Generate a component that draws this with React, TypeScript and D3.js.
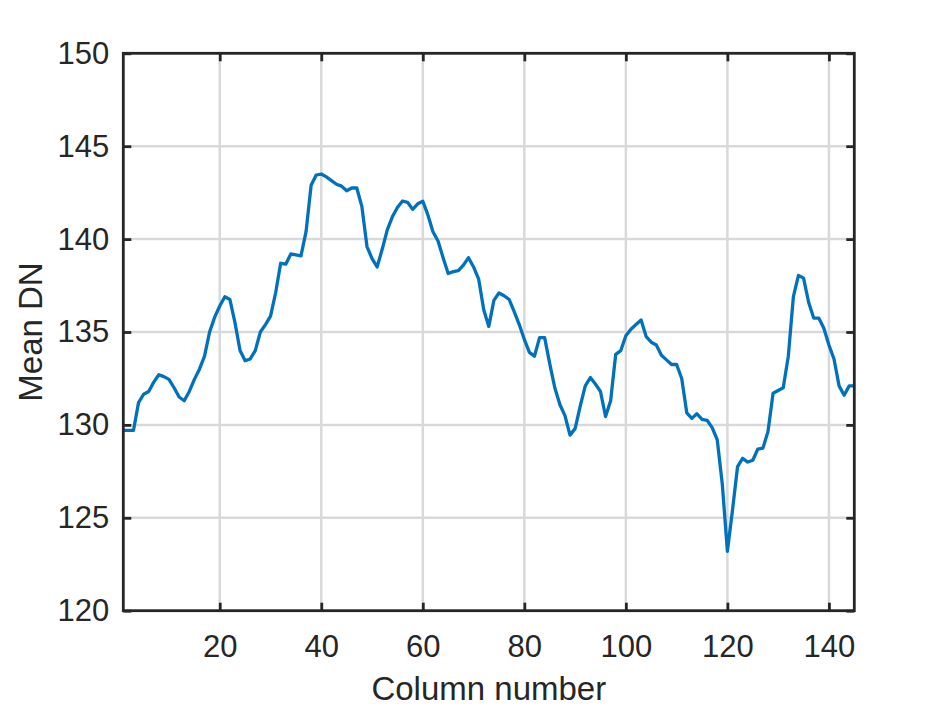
import { useEffect, useRef } from 'react'
import * as d3 from 'd3'

// Mean DN per column
const COLUMNS = d3.range(1, 146)
const MEAN_DN = [
  129.7, 129.7, 129.7, 131.2, 131.65, 131.8, 132.3, 132.7, 132.6, 132.45,
  132.0, 131.5, 131.3, 131.8, 132.45, 133.0, 133.7, 135.0, 135.8, 136.4,
  136.9, 136.75, 135.5, 134.0, 133.45, 133.55, 134.0, 135.0, 135.4, 135.85,
  137.1, 138.7, 138.65, 139.2, 139.15, 139.1, 140.4, 142.9, 143.45, 143.5,
  143.35, 143.15, 142.95, 142.85, 142.6, 142.75, 142.75, 141.75, 139.6, 138.95,
  138.5, 139.45, 140.5, 141.2, 141.7, 142.05, 141.98, 141.6, 141.9, 142.04,
  141.3, 140.4, 139.9, 139.0, 138.15, 138.25, 138.3, 138.6, 139.0, 138.5,
  137.85, 136.2, 135.3, 136.7, 137.1, 136.95, 136.75, 136.1, 135.4, 134.6,
  133.9, 133.7, 134.7, 134.7, 133.3, 132.0, 131.1, 130.5, 129.45, 129.8,
  131.0, 132.1, 132.55, 132.2, 131.8, 130.45, 131.3, 133.8, 134.0, 134.8,
  135.15, 135.4, 135.65, 134.75, 134.45, 134.3, 133.75, 133.5, 133.25, 133.25,
  132.5, 130.65, 130.35, 130.6, 130.3, 130.25, 129.85, 129.2, 126.8, 123.2,
  125.4, 127.75, 128.2, 128.0, 128.1, 128.7, 128.75, 129.65, 131.7, 131.85,
  132.0, 133.7, 136.9, 138.05, 137.9, 136.6, 135.75, 135.75, 135.2, 134.3,
  133.55, 132.1, 131.6, 132.1, 132.1,
]
const X_TICKS = [20, 40, 60, 80, 100, 120, 140]
const Y_TICKS = [120, 125, 130, 135, 140, 145, 150]

const WIDTH = 945
const HEIGHT = 708
const PLOT = { left: 123.3, top: 53.3, right: 854.3, bottom: 610.7 }
const INK = '#262626'
const FONT = '"Liberation Sans", Arial, Helvetica, sans-serif'

export default function App() {
  const svgRef = useRef<SVGSVGElement>(null)

  useEffect(() => {
    if (!svgRef.current) return
    const svg = d3.select(svgRef.current)
    svg.selectAll('*').remove()

    const x = d3.scaleLinear().domain([1, 145]).range([PLOT.left, PLOT.right])
    const y = d3.scaleLinear().domain([120, 150]).range([PLOT.bottom, PLOT.top])
    const innerW = PLOT.right - PLOT.left
    const innerH = PLOT.bottom - PLOT.top

    svg.append('rect').attr('width', WIDTH).attr('height', HEIGHT).attr('fill', '#ffffff')

    // grid
    const grid = svg.append('g')
    grid.selectAll('.gx').data(X_TICKS).join('line')
      .attr('x1', (d) => x(d)).attr('x2', (d) => x(d))
      .attr('y1', PLOT.top).attr('y2', PLOT.bottom)
      .attr('stroke', '#d9d9d9').attr('stroke-width', 2.5)
    grid.selectAll('.gy').data(Y_TICKS.slice(1, -1)).join('line')
      .attr('y1', (d) => y(d)).attr('y2', (d) => y(d))
      .attr('x1', PLOT.left).attr('x2', PLOT.right)
      .attr('stroke', '#d9d9d9').attr('stroke-width', 2.5)

    // data line
    const points = COLUMNS.map((c, i) => [c, MEAN_DN[i]] as [number, number])
    svg.append('path')
      .datum(points)
      .attr('fill', 'none')
      .attr('stroke', '#0072BD')
      .attr('stroke-width', 3.3)
      .attr('stroke-linejoin', 'round')
      .attr('d', d3.line<[number, number]>().x((d) => x(d[0])).y((d) => y(d[1])))

    const styleAxis = (a: any, labels: boolean) => {
      a.select('.domain').remove()
      a.selectAll('line').attr('stroke', INK).attr('stroke-width', 2.8)
      if (labels) {
        a.selectAll('text').attr('fill', INK).attr('font-size', 31).attr('font-family', FONT)
      } else {
        a.selectAll('text').remove()
      }
    }

    // axes (ticks inward, box on)
    svg.append('g').attr('transform', `translate(0,${PLOT.bottom})`)
      .call(d3.axisBottom(x).tickValues(X_TICKS).tickSize(-8).tickPadding(24))
      .call((a) => styleAxis(a, true))
    svg.append('g').attr('transform', `translate(0,${PLOT.top})`)
      .call(d3.axisTop(x).tickValues(X_TICKS).tickSize(-8))
      .call((a) => styleAxis(a, false))
    svg.append('g').attr('transform', `translate(${PLOT.left},0)`)
      .call(d3.axisLeft(y).tickValues(Y_TICKS).tickSize(-8).tickPadding(14))
      .call((a) => styleAxis(a, true))
    svg.append('g').attr('transform', `translate(${PLOT.right},0)`)
      .call(d3.axisRight(y).tickValues(Y_TICKS).tickSize(-8))
      .call((a) => styleAxis(a, false))

    svg.append('rect')
      .attr('x', PLOT.left).attr('y', PLOT.top)
      .attr('width', innerW).attr('height', innerH)
      .attr('fill', 'none').attr('stroke', INK).attr('stroke-width', 2.8)

    // axis titles
    svg.append('text')
      .attr('x', (PLOT.left + PLOT.right) / 2).attr('y', 700)
      .attr('text-anchor', 'middle')
      .attr('font-size', 33).attr('font-family', FONT).attr('fill', INK)
      .text('Column number')
    svg.append('text')
      .attr('transform', `translate(42,${(PLOT.top + PLOT.bottom) / 2}) rotate(-90)`)
      .attr('text-anchor', 'middle')
      .attr('font-size', 33).attr('font-family', FONT).attr('fill', INK)
      .text('Mean DN')
  }, [])

  return (
    <svg
      ref={svgRef}
      width={WIDTH}
      height={HEIGHT}
      style={{ position: 'absolute', left: 0, top: 0, display: 'block' }}
    />
  )
}
